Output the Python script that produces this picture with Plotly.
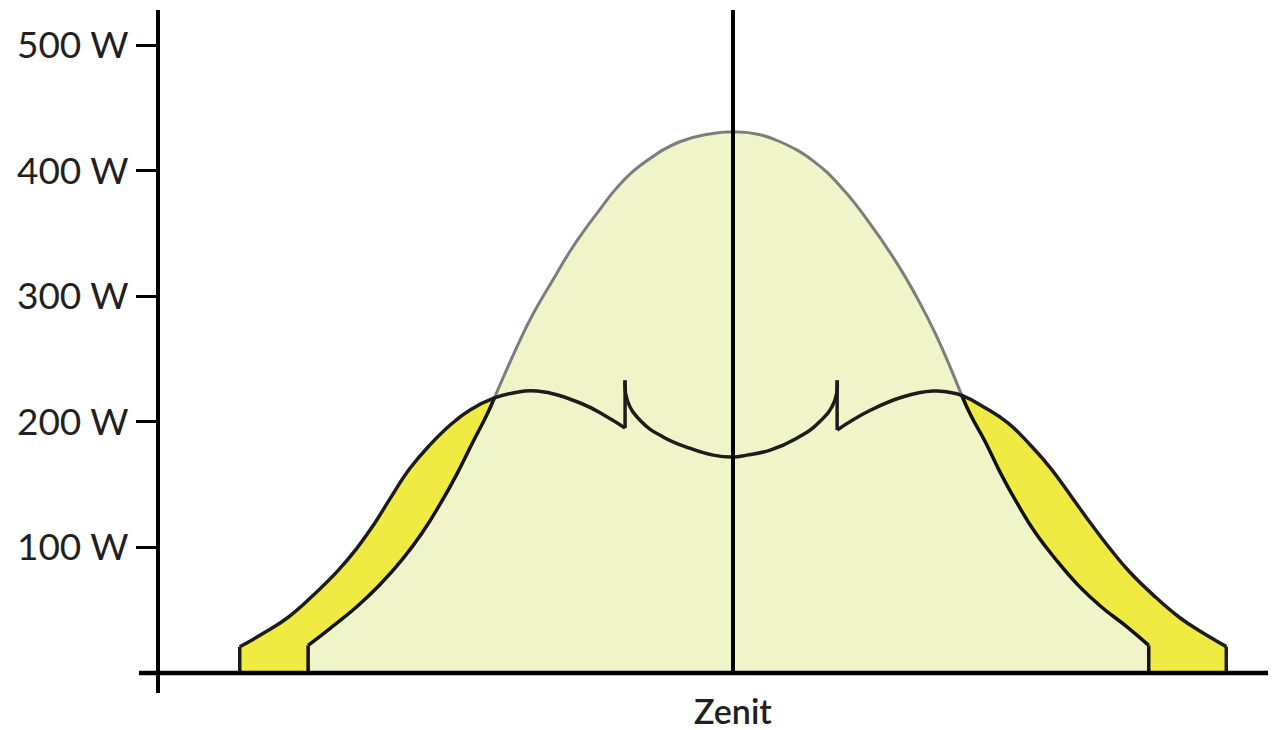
import plotly.graph_objects as go

# x = hours from solar noon (Zenit at 0), y = power in W

# fixed panel output (bell curve)
bell_x = [-5.59, -5.30, -4.95, -4.65, -4.34, -4.08, -3.86, -3.64, -3.42, -3.24, -3.14,
          -2.84, -2.63, -2.37, -2.11, -1.79, -1.49, -1.13, -0.70, -0.33, 0.0,
          0.33, 0.62, 1.05, 1.45, 1.80, 2.16, 2.42, 2.68, 3.01,
          3.13, 3.32, 3.53, 3.75, 3.97, 4.24, 4.54, 4.84, 5.20, 5.47]
bell_y = [22, 35.6, 52.8, 70.1, 91.3, 112.5, 133.8, 157.6, 184.2, 205.4, 219,
          260, 286, 313, 339, 366, 389, 408, 423, 429, 431,
          429, 423, 408, 385, 358, 326, 299, 268, 221,
          205, 184, 158, 134, 112.5, 91, 70, 53, 36, 22]

# tracking panel output, split at the two spikes
track_left_x = [-6.49, -6.18, -5.87, -5.52, -5.21, -4.95, -4.73, -4.51, -4.25, -3.99,
                -3.72, -3.46, -3.14, -2.89, -2.58, -2.01, -1.66, -1.42]
track_left_y = [20.9, 31.6, 43.6, 62.1, 80.7, 99.3, 117.8, 139.1, 163.0, 181.5,
                197.5, 209.4, 219, 223, 224.5, 215, 204, 195]

track_mid_x = [-1.42, -1.39, -1.22, -0.92, -0.57, -0.26, 0.0, 0.18, 0.49, 0.84, 1.14, 1.34, 1.37]
track_mid_y = [233, 217, 201, 188, 179, 173.5, 172, 173.5, 177.5, 187, 200, 217, 233]

track_right_x = [1.37, 1.80, 2.24, 2.63, 2.84, 3.01, 3.32, 3.62, 3.92, 4.18, 4.47,
                 4.72, 4.96, 5.21, 5.53, 5.88, 6.18, 6.49]
track_right_y = [193.5, 209, 220, 224.5, 223.5, 221, 211, 199, 181, 163, 139,
                 118, 99, 81, 62, 44, 32, 21]

y_ticks = [100, 200, 300, 400, 500]
y_labels = [f"{v} W" for v in y_ticks]

X_RANGE = [-7.539, 7.039]
Y_RANGE = [-15.9, 527.9]

LIGHT = "#eff4c9"
YELLOW = "#f0eb43"
FONT = "Lato"
SMOOTH = 1.3

fig = go.Figure()

# yellow gain areas (bell fill covers the part below it)
for xs, ys in [(track_left_x, track_left_y), (track_right_x, track_right_y)]:
    fig.add_trace(go.Scatter(
        x=xs, y=ys, mode="lines", line=dict(shape="spline", smoothing=SMOOTH, width=0),
        fill="tozeroy", fillcolor=YELLOW, hoverinfo="skip", showlegend=False,
    ))

# bell fill
fig.add_trace(go.Scatter(
    x=bell_x, y=bell_y, mode="lines", line=dict(shape="spline", smoothing=SMOOTH, width=0),
    fill="tozeroy", fillcolor=LIGHT, hoverinfo="skip", showlegend=False,
))

# bell outline: gray on top, black along the flanks
i0 = bell_x.index(-3.14)
i1 = bell_x.index(3.01)
fig.add_trace(go.Scatter(
    x=bell_x[i0:i1 + 1], y=bell_y[i0:i1 + 1], mode="lines",
    line=dict(shape="spline", smoothing=SMOOTH, width=3, color="#7d7d7d"),
    hoverinfo="skip", showlegend=False,
))

flank_x = ([bell_x[0], bell_x[0], None] + bell_x[:i0 + 1] + [None]
           + bell_x[i1:] + [None, bell_x[-1], bell_x[-1]])
flank_y = ([0, bell_y[0], None] + bell_y[:i0 + 1] + [None]
           + bell_y[i1:] + [None, bell_y[-1], 0])
fig.add_trace(go.Scatter(
    x=flank_x, y=flank_y, mode="lines",
    line=dict(shape="spline", smoothing=SMOOTH, width=3.5, color="#111111"),
    hoverinfo="skip", showlegend=False,
))

# tracking outline with vertical edges and spikes
tx = ([track_left_x[0], track_left_x[0], None] + track_left_x
      + [None, track_left_x[-1], track_mid_x[0], None] + track_mid_x
      + [None, track_mid_x[-1], track_right_x[0], None] + track_right_x
      + [None, track_right_x[-1], track_right_x[-1]])
ty = ([0, track_left_y[0], None] + track_left_y
      + [None, track_left_y[-1], track_mid_y[0], None] + track_mid_y
      + [None, track_mid_y[-1], track_right_y[0], None] + track_right_y
      + [None, track_right_y[-1], 0])
fig.add_trace(go.Scatter(
    x=tx, y=ty, mode="lines",
    line=dict(shape="spline", smoothing=SMOOTH, width=3.5, color="#1c1c1c"),
    hoverinfo="skip", showlegend=False,
))

# Zenit line and x axis line
fig.add_shape(type="line", x0=0, x1=0, y0=0, y1=Y_RANGE[1], xref="x", yref="y",
              line=dict(color="black", width=4), layer="above")
fig.add_shape(type="line", x0=-0.019, x1=1, y0=0, y1=0, xref="paper", yref="y",
              line=dict(color="black", width=4.5), layer="above")

fig.add_annotation(x=0, y=-0.025, xref="x", yref="paper", text="Zenit", showarrow=False,
                   yanchor="middle", xanchor="center",
                   font=dict(family=FONT, size=34, color="#231f20", weight=600))

fig.update_xaxes(range=X_RANGE, showgrid=False, zeroline=False, showline=False,
                 showticklabels=False, ticks="", fixedrange=True)
fig.update_yaxes(range=Y_RANGE, showgrid=False, zeroline=False, showline=True,
                 linewidth=4, linecolor="black", ticks="outside", ticklen=20,
                 tickwidth=3, tickcolor="black", tickvals=y_ticks, ticktext=y_labels,
                 tickfont=dict(family=FONT, size=37, color="#231f20"), fixedrange=True)

# page body has an 8px margin, so the plot area is offset to land where the reference has it
fig.update_layout(
    width=1267, height=722,
    margin=dict(l=152, r=7, t=2, b=37),
    plot_bgcolor="white", paper_bgcolor="white",
    showlegend=False,
)

fig.write_html("out.html")
